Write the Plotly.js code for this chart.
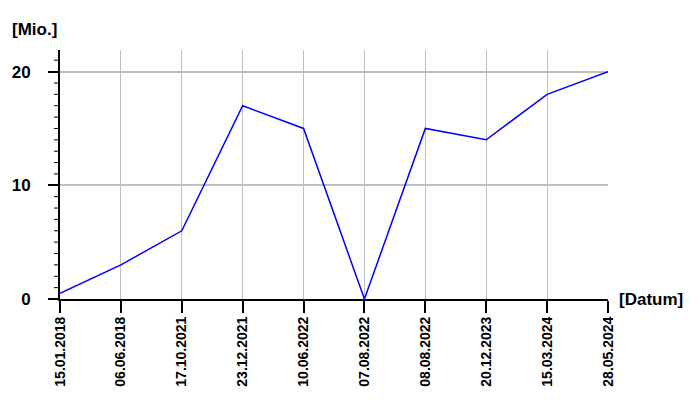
<!DOCTYPE html>
<html>
<head>
<meta charset="utf-8">
<script src="https://cdn.plot.ly/plotly-3.0.1.min.js"></script>
<style>html,body{margin:0;padding:0;background:#fff;}#chart{width:700px;height:400px;}</style>
</head>
<body>
<div id="chart"></div>
<script>
const dates = ["15.01.2018","06.06.2018","17.10.2021","23.12.2021","10.06.2022","07.08.2022","08.08.2022","20.12.2023","15.03.2024","28.05.2024"];
const values = [0.5, 3, 6, 17, 15, 0, 15, 14, 18, 20];
const yTitle = "[Mio.]";
const xTitle = "[Datum]";

const font = "Liberation Sans, Arial, sans-serif";
const yRange = [0, 21.9];
const majorStep = 10;
const minorStep = 1;

const trace = {
  x: dates, y: values, type: "scatter", mode: "lines",
  line: {color: "#0000ff", width: 1.5}, hoverinfo: "skip"
};

// minor tick marks on the value axis, placed through the y scale
const plotW = 700 - 60 - 92;
const minorTicks = [];
for (let v = yRange[0]; v <= yRange[1]; v += minorStep) {
  if (v % majorStep === 0) continue;
  minorTicks.push({
    type: "line", xref: "paper", yref: "y",
    x0: -6 / plotW, x1: 0, y0: v, y1: v,
    line: {color: "#000", width: 1}, layer: "above"
  });
}

const layout = {
  width: 700, height: 400,
  margin: {l: 60, r: 92, t: 50, b: 101},
  showlegend: false,
  xaxis: {
    type: "category", range: [0, 9],
    showgrid: true, gridcolor: "#c0c0c0", gridwidth: 1,
    showline: true, linecolor: "#000", linewidth: 2,
    ticks: "outside", ticklen: 12, tickwidth: 2, tickcolor: "#000",
    ticklabelstandoff: -2,
    tickangle: -90, tickfont: {family: font, size: 14, color: "#000", weight: "bold"},
    zeroline: false
  },
  yaxis: {
    range: yRange, tickmode: "linear", tick0: 0, dtick: majorStep,
    showline: true, linecolor: "#000", linewidth: 2,
    ticks: "outside", ticklen: 10, tickwidth: 2, tickcolor: "#000",
    gridcolor: "#c0c0c0", gridwidth: 2, zeroline: false,
    ticklabelstandoff: 14,
    tickfont: {family: font, size: 17, color: "#000", weight: "bold"}
  },
  shapes: minorTicks,
  annotations: [
    {text: yTitle, xref: "paper", yref: "paper", x: -50/548, y: (299-30)/249, xanchor: "left", yanchor: "middle", showarrow: false, font: {family: font, size: 17, color: "#000", weight: "bold"}},
    {text: xTitle, xref: "paper", yref: "paper", x: 557/548, y: 0, xanchor: "left", yanchor: "middle", showarrow: false, font: {family: font, size: 17, color: "#000", weight: "bold"}}
  ]
};
Plotly.newPlot("chart", [trace], layout, {staticPlot: true, displayModeBar: false});
</script>
</body>
</html>
